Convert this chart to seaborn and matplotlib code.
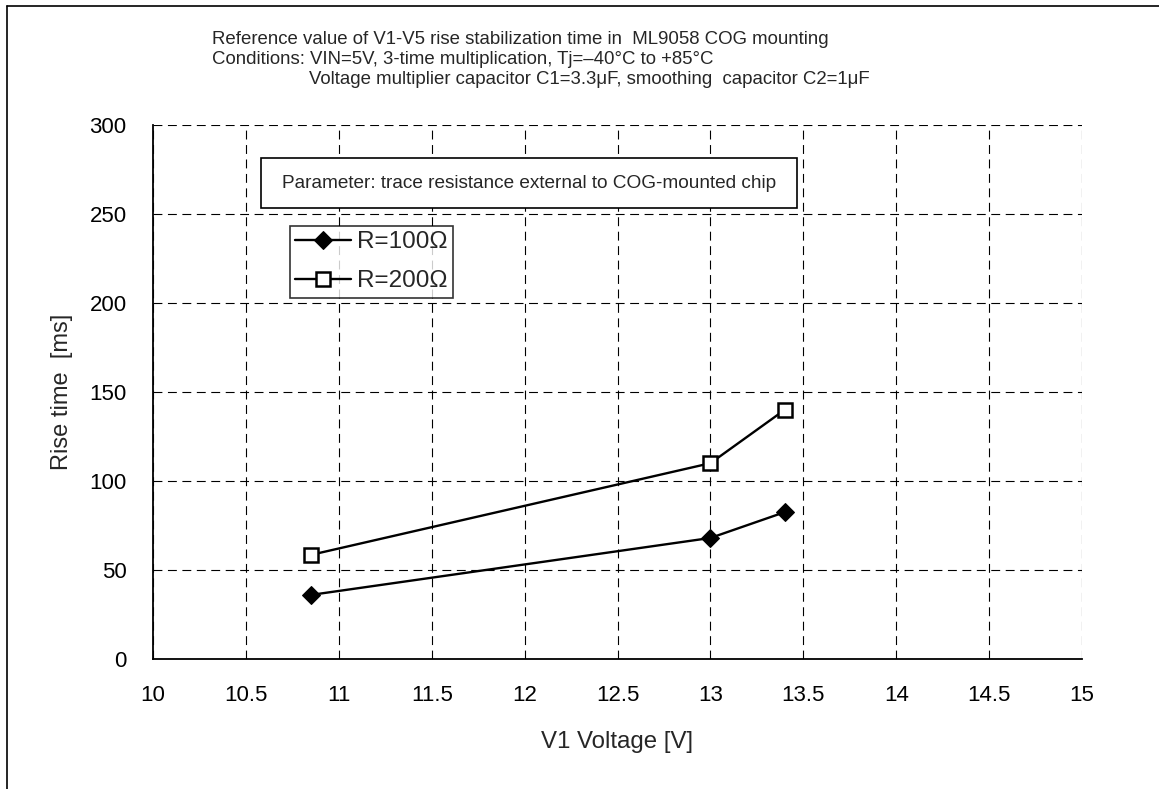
import numpy as np
import pandas as pd
import matplotlib
matplotlib.use("Agg")
import matplotlib.pyplot as plt
import seaborn as sns
from matplotlib.patches import Rectangle
from matplotlib.lines import Line2D

# valeurs
v1_voltage = [10.85, 13.0, 13.4]
rise_r100 = [36, 68, 82.5]
rise_r200 = [58.5, 110, 140]
series_labels = ["R=100Ω", "R=200Ω"]
x_ticks = [10, 10.5, 11, 11.5, 12, 12.5, 13, 13.5, 14, 14.5, 15]
y_ticks = [0, 50, 100, 150, 200, 250, 300]

title_lines = [
    "Reference value of V1-V5 rise stabilization time in  ML9058 COG mounting",
    "Conditions: VIN=5V, 3-time multiplication, Tj=\u201340\u00b0C to +85\u00b0C",
    "Voltage multiplier capacitor C1=3.3\u03bcF, smoothing  capacitor C2=1\u03bcF",
]
param_text = "Parameter: trace resistance external to COG-mounted chip"

sns.set_style("white")
plt.rcParams["font.family"] = ["Liberation Sans", "DejaVu Sans"]

fig = plt.figure(figsize=(11.59, 7.89), dpi=100)
ax = fig.add_axes([153 / 1159, 1 - 659 / 789, 929 / 1159, 534 / 789])

df100 = pd.DataFrame({"v": v1_voltage, "t": rise_r100})
df200 = pd.DataFrame({"v": v1_voltage, "t": rise_r200})

sns.lineplot(data=df100, x="v", y="t", ax=ax, color="black", lw=1.7,
             marker="D", markersize=9.5, markerfacecolor="black",
             markeredgecolor="black", label=series_labels[0], zorder=5)
sns.lineplot(data=df200, x="v", y="t", ax=ax, color="black", lw=1.7,
             marker="s", markersize=10, markerfacecolor="white",
             markeredgecolor="black", markeredgewidth=1.8,
             label=series_labels[1], zorder=5)

ax.set_xlim(10, 15)
ax.set_ylim(0, 300)
ax.set_xticks(x_ticks)
ax.set_xticklabels([f"{t:g}" for t in x_ticks])
ax.set_yticks(y_ticks)
ax.tick_params(axis="both", length=0, labelsize=16, pad=19, colors="black")
ax.grid(True, color="black", linestyle=(0, (8, 5)), linewidth=0.8)

for side in ["top", "right"]:
    ax.spines[side].set_visible(False)
for side in ["left", "bottom"]:
    ax.spines[side].set_color("black")
    ax.spines[side].set_linewidth(1.3)

ax.set_xlabel("V1 Voltage [V]", fontsize=17.3, labelpad=18)
ax.set_ylabel("Rise time  [ms]", fontsize=17, labelpad=12)

# cadre du paramètre
ax.add_patch(Rectangle((0.1163, 0.8446), 0.5769, 0.0934, transform=ax.transAxes,
                       facecolor="white", edgecolor="black", lw=1.2, zorder=6))
ax.text(0.405, 0.891, param_text, transform=ax.transAxes, ha="center",
        va="center", fontsize=13.7, zorder=7)

leg = ax.legend(loc="upper left", bbox_to_anchor=(0.1475, 0.811), fontsize=17.5,
                frameon=True, fancybox=False, edgecolor="black",
                handlelength=2.3, borderpad=0.22, labelspacing=0.7,
                handletextpad=0.25, borderaxespad=0)
leg.get_frame().set_linewidth(1.2)
leg.set_zorder(8)

# titre en trois lignes
fig.text(212 / 1159, 1 - 39 / 789, title_lines[0], fontsize=13.4, va="center")
fig.text(212 / 1159, 1 - 59 / 789, title_lines[1], fontsize=13.4, va="center")
fig.text(309 / 1159, 1 - 79 / 789, title_lines[2], fontsize=13.4, va="center")

# cadre extérieur (gauche et haut)
fig.add_artist(Line2D([7 / 1159, 7 / 1159], [0, 1 - 6 / 789], color="black", lw=1.2))
fig.add_artist(Line2D([7 / 1159, 1], [1 - 6 / 789, 1 - 6 / 789], color="black", lw=1.2))

fig.savefig("out.png", dpi=100)
